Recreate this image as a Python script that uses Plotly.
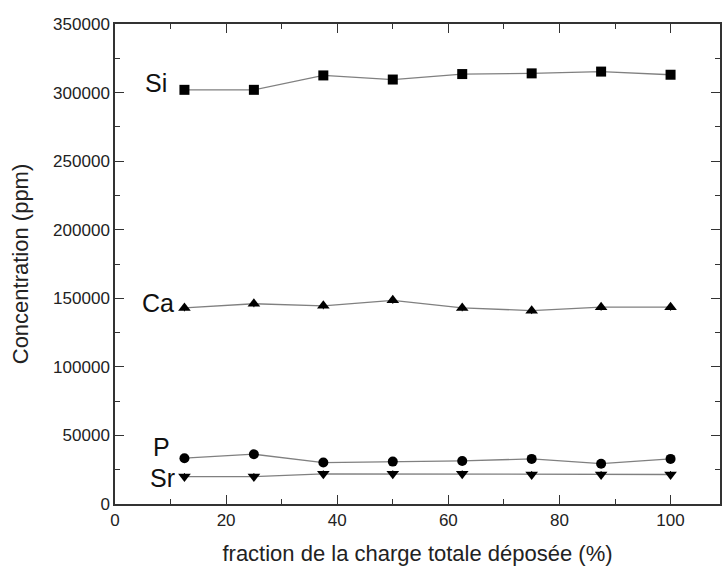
import plotly.graph_objects as go

fraction = [12.5, 25, 37.5, 50, 62.5, 75, 87.5, 100]
si = [302000, 302000, 312500, 309500, 313500, 314000, 315300, 313000]
ca = [143000, 146000, 144500, 148500, 143000, 141000, 143500, 143500]
p = [33400, 36300, 30200, 30900, 31400, 32900, 29400, 32900]
sr = [20000, 20000, 22000, 22000, 22000, 21500, 21500, 21500]
err = 2500

labels = ["Si", "Ca", "P", "Sr"]
label_x = [7.4, 7.7, 8.4, 8.5]
label_y = [307300, 146900, 41900, 19000]

series = [
    (si, "square", 10),
    (ca, "triangle-up", 11),
    (p, "circle", 10),
    (sr, "triangle-down", 11),
]

FONT = "Liberation Sans, Arial"

fig = go.Figure()
for (vals, sym, sz), name in zip(series, labels):
    fig.add_trace(go.Scatter(
        x=fraction, y=vals, mode="lines+markers", name=name,
        line=dict(color="#808080", width=1.3),
        marker=dict(symbol=sym, size=sz, color="black"),
        error_y=dict(type="constant", value=err, color="black", thickness=1, width=0),
        showlegend=False,
    ))

for t, lx, ly in zip(labels, label_x, label_y):
    fig.add_annotation(x=lx, y=ly, text=t, showarrow=False,
                       xanchor="center", yanchor="middle",
                       font=dict(family=FONT, size=25, color="#111"))

axis_common = dict(
    showline=True, linecolor="#333", linewidth=1.5, mirror="ticks",
    ticks="inside", ticklen=9, tickwidth=1.3, tickcolor="#333",
    showgrid=False, zeroline=False,
    tickfont=dict(family=FONT, size=17, color="#222"),
)

fig.update_xaxes(
    range=[0, 108.9], tickmode="array", tickvals=[0, 20, 40, 60, 80, 100],
    minor=dict(ticks="inside", ticklen=5, tickwidth=1.2, tickcolor="#333", dtick=10, tick0=0),
    title=dict(text="fraction de la charge totale déposée (%)", standoff=16,
               font=dict(family=FONT, size=22, color="#222")),
    **axis_common,
)
fig.update_yaxes(
    range=[0, 350000], tickmode="array",
    tickvals=[0, 50000, 100000, 150000, 200000, 250000, 300000, 350000],
    ticktext=["0", "50000", "100000", "150000", "200000", "250000", "300000", "350000"],
    minor=dict(ticks="inside", ticklen=5, tickwidth=1.2, tickcolor="#333", dtick=25000, tick0=0),
    title=dict(text="Concentration (ppm)", standoff=18,
               font=dict(family=FONT, size=22, color="#222")),
    **axis_common,
)

fig.update_layout(
    width=722, height=572,
    margin=dict(l=115, r=0, t=24, b=68),
    plot_bgcolor="white", paper_bgcolor="white",
)

fig.write_html(
    "out.html",
    config={"displayModeBar": False},
    post_script="document.body.style.margin='0';document.documentElement.style.overflow='hidden';",
)
